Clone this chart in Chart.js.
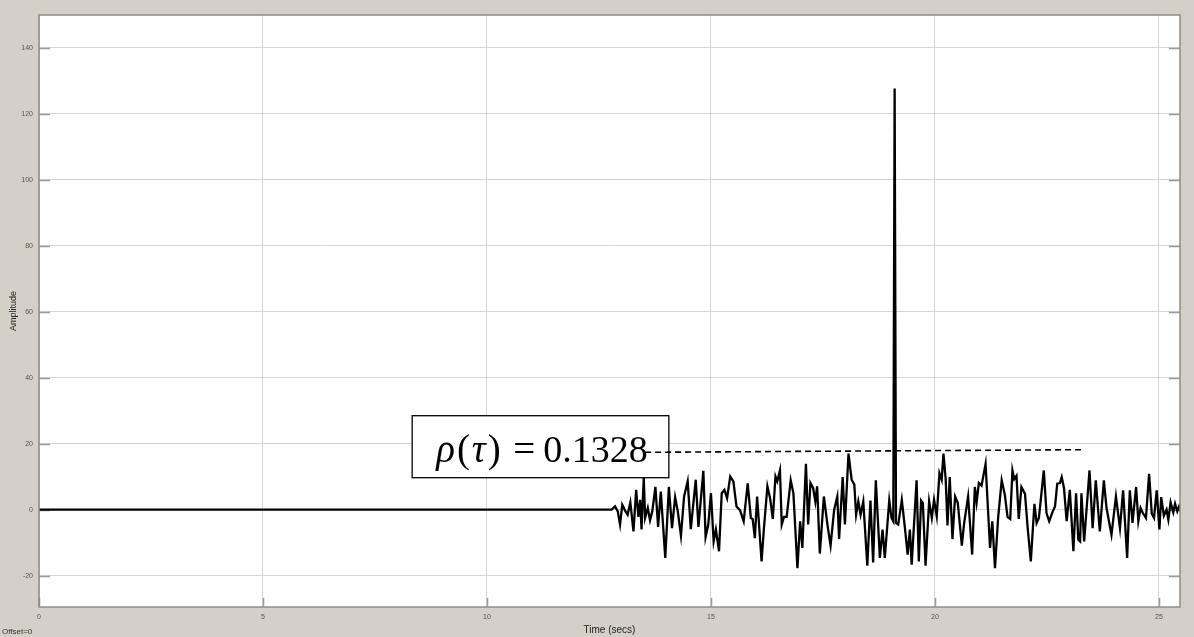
<!DOCTYPE html>
<html>
<head>
<meta charset="utf-8">
<script src="https://cdn.jsdelivr.net/npm/chart.js@4.4.0/dist/chart.umd.min.js"></script>
<style>
html, body { margin: 0; padding: 0; background: #d4d0c8; }
</style>
</head>
<body>
<canvas id="scope" width="1194" height="637"></canvas>
<script>
// scope trace (time in secs, amplitude)
const times = [
  0, 12.78, 12.86, 12.92, 12.97, 13.02, 13.08, 13.14, 13.20, 13.27, 13.33, 13.38, 13.42, 13.45, 13.50,
  13.53, 13.59, 13.64, 13.69, 13.76, 13.82, 13.88, 13.98, 14.06, 14.13, 14.20, 14.26, 14.33, 14.40,
  14.48, 14.55, 14.66, 14.72, 14.83, 14.88, 14.94, 15.00, 15.06, 15.11, 15.18, 15.24, 15.30, 15.36,
  15.43, 15.50, 15.57, 15.65, 15.73, 15.82, 15.89,
  15.93, 15.98, 16.03, 16.13, 16.18, 16.26, 16.32, 16.38, 16.44, 16.48, 16.54, 16.58, 16.63, 16.69,
  16.78, 16.84, 16.93, 16.99, 17.04, 17.12, 17.17, 17.22, 17.28, 17.33, 17.37, 17.43, 17.52, 17.60,
  17.67, 17.75, 17.82, 17.86, 17.94, 17.99, 18.07, 18.14, 18.20, 18.24, 18.29, 18.34, 18.40, 18.49,
  18.56, 18.62, 18.68, 18.77, 18.83, 18.88, 18.98, 19.03, 19.07, 19.10, 19.13,
  19.18, 19.26, 19.33, 19.39, 19.44, 19.48, 19.59, 19.64, 19.69, 19.73, 19.79, 19.87, 19.93, 19.98,
  20.04, 20.10, 20.15, 20.19, 20.24, 20.28, 20.33, 20.39, 20.45, 20.51, 20.60, 20.65, 20.74, 20.83,
  20.89, 20.93, 20.98, 21.04, 21.13, 21.23, 21.28, 21.34, 21.41, 21.49, 21.56, 21.62, 21.68, 21.73,
  21.77, 21.82, 21.87, 21.93, 22.01, 22.07, 22.14, 22.22, 22.27, 22.32,
  22.43, 22.49, 22.55, 22.63, 22.68, 22.73, 22.79, 22.83, 22.88, 22.94, 23.01, 23.09, 23.15, 23.20,
  23.24, 23.27, 23.33, 23.45, 23.52, 23.59, 23.68, 23.77, 23.83, 23.94, 24.04, 24.13, 24.20, 24.29,
  24.35, 24.41, 24.49, 24.54, 24.59, 24.64, 24.71, 24.78, 24.84, 24.89, 24.95, 25.01, 25.05, 25.11,
  25.17, 25.21, 25.26, 25.32, 25.36, 25.41, 25.45, 25.51
];
const amps = [
  0, 0, 1, -0.5, -4.5, 1.5, -0.2, -1.5, 2.2, -6.6, 6, -2.2, 3, -6, 9.6,
  -2.5, 0.5, -3.2, -0.5, 6.9, -5.2, 5.5, -14.6, 6.9, -5.6, 3.8, -0.5, -7.9, 4,
  8.6, -5.9, 9.1, -5.2, 11.8, -8.3, -4.5, 5, -9.6, -6, -12.6, 5, 6, 3.5,
  10.1, 8.6, 1, -0.2, -3.5, 8, -2.5,
  -2.8, -8.6, 4, -15.7, -6, 7.1, 3.5, -2.8, 10.1, 8.6, 11.9, -4.5, -2.2, -2.2,
  8.9, 5, -17.7, -3.5, -11.6, 13.9, -4.5, 8.1, 6.6, 2.5, 7.1, -13.3, 4, -4.5,
  -10.9, 0, 4, -8.9, 9.9, -4.5, 17, 9.1, 7.6, -1.5, 2.5, -1.5, 2.5, -17,
  2.8, -16, 8.9, -14.6, -6, -14.6, 2.8, -2.5, -3.5, 127.7, -4,
  -4.5, 3, -5.6, -13.6, -6, -16.7, 8.9, -15.7, 2.8, 2, -17, 2.5, -2.5, 3,
  -2, 11.1, 9.1, 17, 9.1, -4.8, 9.9, -8.9, 4, 2, -10.9, -4.2, 4, -13.6,
  6.9, 2.2, 8.1, 7.3, 13.9, -11.6, -3.5, -17.7, -2.5, 8.9, 4.5, -2.2, -2.8, 11.9,
  9.3, 10.3, -2.8, 6.9, 4.8, -5.6, -15.7, 1.8, -4, -2.5,
  11.9, -1, -3.5, -0.5, 1, 7.9, 8.1, 9.9, 6.6, -3.5, 6, -12.6, 5, -9.1,
  -9.6, 5, -9.6, 11.9, -5.6, 8.9, -6.6, 8.9, 0.5, -7.6, 4, -5.6, 5.9, -14.6,
  5.9, -4, 6.9, -3.5, 0.5, -1, -2.5, 10.9, -1.2, -2.5, 5.9, -6, 3.8, -1.8,
  0, -3, 2.2, -0.8, 1.8, -0.5, 1, -1.5
];

// dashed level line drawn on the plot
const levelTimes = [13.53, 23.3];
const levelAmps = [17.4, 18.2];

// annotation box corners (data units)
const noteTimes = [8.33, 14.06];
const noteAmps = [9.7, 28.5];
const noteValue = '0.1328';

const xTicks = [0, 5, 10, 15, 20, 25];
const yTicks = [-20, 0, 20, 40, 60, 80, 100, 120, 140];

const trace = times.map((t, i) => ({ x: t, y: amps[i] }));
const level = levelTimes.map((t, i) => ({ x: t, y: levelAmps[i] }));

const scopeLook = {
  id: 'scopeLook',
  beforeDraw(chart) {
    const { ctx, chartArea: a } = chart;
    ctx.save();
    ctx.fillStyle = '#d4d0c8';
    ctx.fillRect(0, 0, chart.width, chart.height);
    ctx.fillStyle = '#ffffff';
    ctx.fillRect(a.left, a.top, a.right - a.left, a.bottom - a.top);
    ctx.restore();
  },
  beforeDatasetsDraw(chart) {
    const { ctx, chartArea: a, scales: { x, y } } = chart;
    ctx.save();
    // small inner tick stubs like the scope
    ctx.strokeStyle = '#9a9a9a';
    ctx.lineWidth = 1.5;
    ctx.beginPath();
    yTicks.forEach(v => {
      const py = Math.round(y.getPixelForValue(v)) + 0.5;
      ctx.moveTo(a.left, py); ctx.lineTo(a.left + 11, py);
      ctx.moveTo(a.right - 11, py); ctx.lineTo(a.right, py);
    });
    xTicks.forEach(v => {
      const px = Math.round(x.getPixelForValue(v)) + 0.5;
      ctx.moveTo(px, a.bottom); ctx.lineTo(px, a.bottom - 9);
    });
    ctx.stroke();

    const l = x.getPixelForValue(noteTimes[0]);
    const r = x.getPixelForValue(noteTimes[1]);
    const t = y.getPixelForValue(noteAmps[1]);
    const b = y.getPixelForValue(noteAmps[0]);
    ctx.fillStyle = '#ffffff';
    ctx.fillRect(l, t, r - l, b - t);
    ctx.strokeStyle = '#000';
    ctx.lineWidth = 1.3;
    ctx.strokeRect(l, t, r - l, b - t);

    // rho(tau) = value, set like an equation
    const base = t + 46;
    const ital = 'italic 39px "Liberation Serif", "Times New Roman", serif';
    const roman = '39px "Liberation Serif", "Times New Roman", serif';
    ctx.fillStyle = '#000';
    ctx.textBaseline = 'alphabetic';
    let cx = l + 24;
    const parts = [['\u03C1', ital], ['(', roman], ['\u03C4', ital], [')', roman]];
    parts.forEach(([s, f]) => {
      ctx.font = f;
      ctx.fillText(s, cx, base);
      cx += ctx.measureText(s).width + 2;
    });
    ctx.font = roman;
    ctx.fillText('=', l + 101, base);
    ctx.font = '38px "Liberation Serif", "Times New Roman", serif';
    ctx.fillText(noteValue, l + 131, base);
    ctx.restore();
  },
  afterDatasetsDraw(chart) {
    const { ctx, chartArea: a } = chart;
    ctx.save();
    ctx.strokeStyle = '#8c8c8c';
    ctx.lineWidth = 1.5;
    ctx.strokeRect(a.left, a.top, a.right - a.left, a.bottom - a.top);
    ctx.restore();
  },
  afterDraw(chart) {
    const ctx = chart.ctx;
    ctx.save();
    ctx.fillStyle = '#333';
    ctx.font = '8px "Liberation Sans", Arial, sans-serif';
    ctx.textBaseline = 'middle';
    ctx.fillText('Offset=0', 2, 632);
    ctx.restore();
  }
};

new Chart(document.getElementById('scope'), {
  type: 'scatter',
  data: {
    datasets: [
      {
        data: trace,
        showLine: true,
        borderColor: '#000',
        borderWidth: 2.3,
        pointRadius: 0,
        tension: 0
      },
      {
        data: level,
        showLine: true,
        borderColor: '#000',
        borderWidth: 1.6,
        borderDash: [6, 4],
        pointRadius: 0
      }
    ]
  },
  options: {
    responsive: false,
    animation: false,
    layout: { padding: { top: 15, right: 14, left: 0, bottom: 0 } },
    plugins: { legend: { display: false }, tooltip: { enabled: false } },
    scales: {
      x: {
        type: 'linear',
        min: 0,
        max: 25.47,
        afterBuildTicks: s => { s.ticks = xTicks.map(v => ({ value: v })); },
        afterFit: s => { s.height = 30; },
        grid: { color: '#d4d4d4', lineWidth: 1, drawTicks: false },
        border: { display: false },
        ticks: { padding: 6, color: '#555', font: { size: 7, family: 'Liberation Sans' } },
        title: {
          display: true,
          text: 'Time (secs)',
          color: '#222',
          font: { size: 10, family: 'Liberation Sans' },
          padding: { top: 0, bottom: 1 }
        }
      },
      y: {
        min: -29.5,
        max: 150,
        afterBuildTicks: s => { s.ticks = yTicks.map(v => ({ value: v })); },
        afterFit: s => { s.width = 39; },
        grid: { color: '#d4d4d4', lineWidth: 1, drawTicks: false },
        border: { display: false },
        ticks: { padding: 6, color: '#555', font: { size: 7, family: 'Liberation Sans' } },
        title: {
          display: true,
          text: 'Amplitude',
          color: '#222',
          font: { size: 9, family: 'Liberation Sans' },
          padding: { top: 8, bottom: 0 }
        }
      }
    }
  },
  plugins: [scopeLook]
});
</script>
</body>
</html>
